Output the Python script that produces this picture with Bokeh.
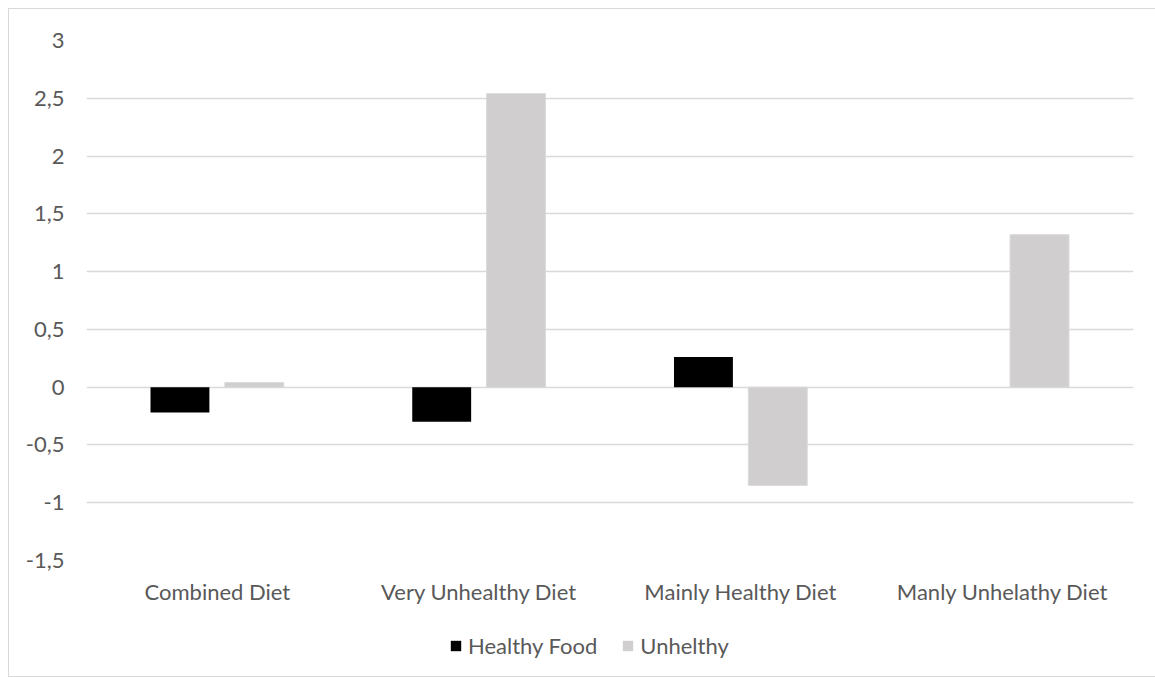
from bokeh.plotting import figure
from bokeh.layouts import column
from bokeh.models import FactorRange, Range1d, FixedTicker, Legend, LegendItem, ColumnDataSource
from bokeh.transform import dodge
from bokeh.embed import file_html
from bokeh.resources import INLINE

categories = ["Combined Diet", "Very Unhealthy Diet", "Mainly Healthy Diet", "Manly Unhelathy Diet"]
healthy_food = [-0.22, -0.30, 0.26, 0.0]
unhealthy = [0.04, 2.54, -0.85, 1.32]
series_names = ["Healthy Food", "Unhelthy"]
y_ticks = [-1.5, -1, -0.5, 0, 0.5, 1, 1.5, 2, 2.5, 3]
y_tick_labels = ["-1,5", "-1", "-0,5", "0", "0,5", "1", "1,5", "2", "2,5", "3"]

FONT = "Lato"
TXT = "#595959"
GRID = "#d9d9d9"
C_HEALTHY = "#000000"
C_UNHEALTHY = "#d0cece"

src = ColumnDataSource(dict(cat=categories, healthy=healthy_food, unhealthy=unhealthy))

p = figure(x_range=FactorRange(*categories, range_padding=0),
           y_range=Range1d(-1.5, 3),
           frame_width=1047, frame_height=520,
           output_backend="svg", toolbar_location=None,
           min_border_left=77, min_border_right=23, min_border_top=31, min_border_bottom=60)
p.outline_line_color = None
p.background_fill_color = "white"

r1 = p.vbar(x=dodge("cat", -0.143, range=p.x_range), top="healthy", width=0.225, source=src,
            fill_color=C_HEALTHY, line_color=None)
r2 = p.vbar(x=dodge("cat", 0.141, range=p.x_range), top="unhealthy", width=0.225, source=src,
            fill_color=C_UNHEALTHY, line_color="#dadada", line_width=1)

p.xgrid.grid_line_color = None
p.ygrid.grid_line_color = GRID
p.ygrid.grid_line_width = 1.5
p.ygrid.level = "underlay"

p.yaxis.ticker = FixedTicker(ticks=y_ticks)
p.yaxis.major_label_overrides = {t: l for t, l in zip(y_ticks, y_tick_labels)}
for ax in (p.xaxis[0], p.yaxis[0]):
    ax.axis_line_color = None
    ax.major_tick_line_color = None
    ax.minor_tick_line_color = None
    ax.major_tick_out = 0
    ax.major_tick_in = 0
    ax.major_label_text_font = FONT
    ax.major_label_text_font_size = "22px"
    ax.major_label_text_color = TXT
p.yaxis.major_label_standoff = 22
p.xaxis.major_label_standoff = 17

# legend strip below the chart (swatch renderers sit outside the visible range)
lg = figure(x_range=Range1d(0, 1), y_range=Range1d(0, 1),
            frame_width=1147, frame_height=56,
            output_backend="svg", toolbar_location=None,
            x_axis_location=None, y_axis_location=None,
            min_border=0)
lg.outline_line_color = None
lg.grid.grid_line_color = None
swatch = ColumnDataSource(dict(x=[-10.0], top=[-10.0]))
d1 = lg.vbar(x="x", top="top", width=0.1, source=swatch, fill_color=C_HEALTHY, line_color=None)
d2 = lg.vbar(x="x", top="top", width=0.1, source=swatch, fill_color=C_UNHEALTHY, line_color=None)

legend = Legend(items=[LegendItem(label=series_names[0], renderers=[d1]),
                       LegendItem(label=series_names[1], renderers=[d2])],
                orientation="horizontal", location=(440, 17),
                padding=0, margin=0, spacing=24, border_line_color=None,
                background_fill_alpha=0,
                glyph_width=13, glyph_height=13, label_standoff=6,
                label_text_font=FONT, label_text_font_size="22px", label_text_color=TXT)
lg.add_layout(legend, "center")

layout = column(p, lg, spacing=0)
layout.margin = (8, 0, 0, 8)
layout.styles = {"border": "1px solid #d9d9d9"}

open("out.html", "w").write(file_html(layout, INLINE))
